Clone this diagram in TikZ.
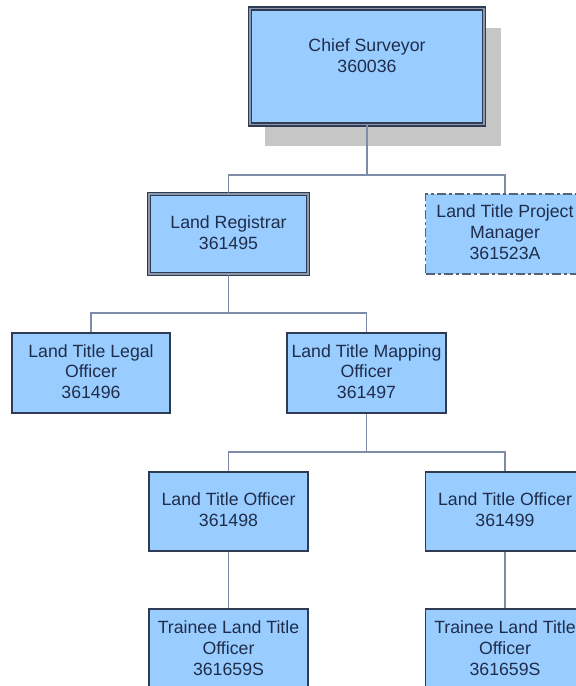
\documentclass[tikz,border=0pt]{standalone}
\usepackage{fontspec}
\setmainfont{Liberation Sans}
\definecolor{boxfill}{HTML}{99CCFF}
\definecolor{boxline}{HTML}{2E3B52}
\definecolor{txtcol}{HTML}{1F2D4A}
\definecolor{conncol}{HTML}{7F8CA8}
\definecolor{shadowcol}{HTML}{C6C6C6}
\definecolor{gapcol}{HTML}{8C98AC}
\tikzset{
  orgbox/.style={draw=boxline, fill=boxfill, line width=1.4pt, minimum width=159pt, minimum height=80pt, inner sep=0pt},
  dblbox/.style={orgbox, double=gapcol, double distance=1.8pt, line width=1.3pt},
  dashbox/.style={orgbox, draw=boxline!80, line width=1.8pt, dash pattern=on 9pt off 3pt on 3pt off 3pt},
  txt/.style={text=txtcol, align=center, font=\fontsize{17.7}{20.8}\selectfont, inner sep=0pt},
  conn/.style={draw=conncol, line width=1.3pt}
}
\begin{document}
\begin{tikzpicture}[x=1pt,y=-1pt]
\useasboundingbox (0,0) rectangle (576,686);
\clip (0,0) rectangle (576,686);
\fill[white] (0,0) rectangle (576,686);
% shadow
\fill[shadowcol] (265,28) rectangle (501,146);
% boxes
\node[dblbox, minimum width=234pt, minimum height=116pt] (chief) at (367,66.5) {};
\node[txt] (chieft) at (367,56) {Chief Surveyor\\360036};
\node[dblbox] (reg) at (228.5,234) {};
\node[txt] (regt) at (228.5,233) {Land Registrar\\361495};
\node[dashbox] (pm) at (505,234) {};
\node[txt] (pmt) at (505,232) {Land Title Project\\Manager\\361523A};
\node[orgbox, minimum width=158pt] (legal) at (91,373) {};
\node[txt] (legalt) at (91,371.5) {Land Title Legal\\Officer\\361496};
\node[orgbox] (map) at (366.5,373) {};
\node[txt] (mapt) at (366.5,371.5) {Land Title Mapping\\Officer\\361497};
\node[orgbox, minimum height=79pt] (lto1) at (228.5,511.5) {};
\node[txt] (lto1t) at (228.5,510) {Land Title Officer\\361498};
\node[orgbox, minimum height=79pt] (lto2) at (505,511.5) {};
\node[txt] (lto2t) at (505,510) {Land Title Officer\\361499};
\node[orgbox] (tr1) at (228.5,649) {};
\node[txt] (tr1t) at (228.5,648) {Trainee Land Title\\Officer\\361659S};
\node[orgbox] (tr2) at (505,649) {};
\node[txt] (tr2t) at (505,648) {Trainee Land Title\\Officer\\361659S};
% bus levels
\coordinate (b1) at (0,175);
\coordinate (b2) at (0,313);
\coordinate (b3) at (0,452);
% connectors
\draw[conn] (chief.south) -- (chief.south |- b1) -| (reg.north);
\draw[conn] (chief.south |- b1) -| (pm.north);
\draw[conn] (reg.south) -- (reg.south |- b2) -| (legal.north);
\draw[conn] (reg.south |- b2) -| (map.north);
\draw[conn] (map.south) -- (map.south |- b3) -| (lto1.north);
\draw[conn] (map.south |- b3) -| (lto2.north);
\draw[conn] (lto1.south) -- (tr1.north);
\draw[conn] (lto2.south) -- (tr2.north);
\end{tikzpicture}
\end{document}
